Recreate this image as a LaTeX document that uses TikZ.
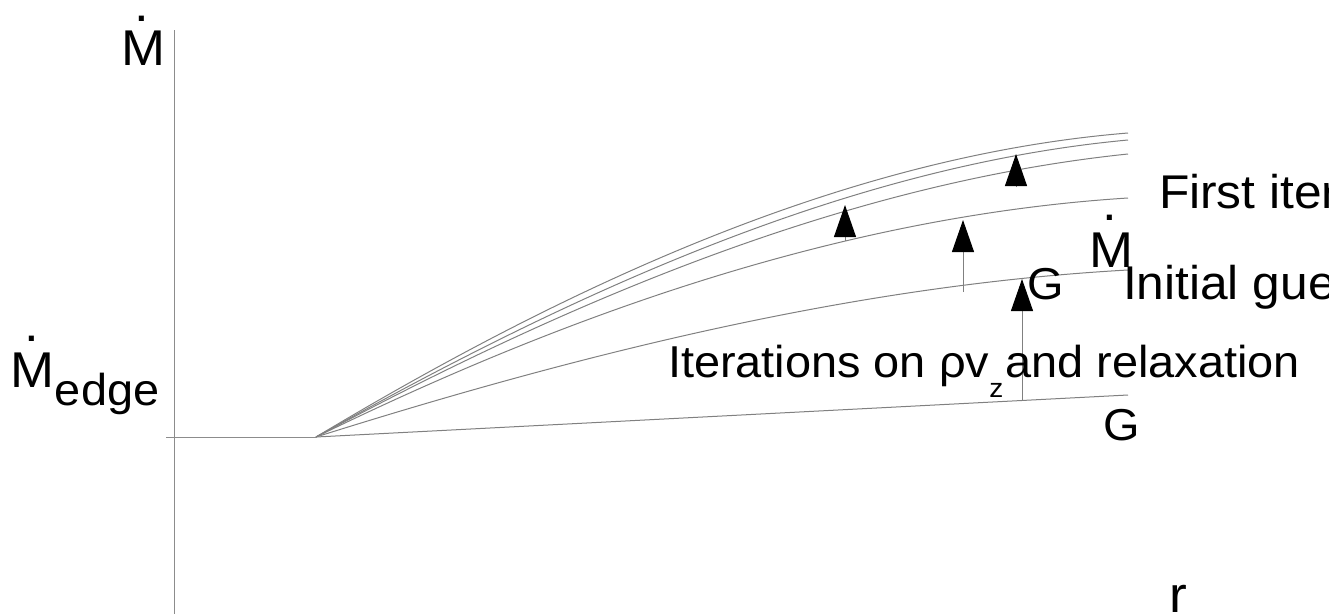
\documentclass[tikz,border=0pt]{standalone}
\usepackage{fontspec}
\setmainfont{Liberation Sans}[FakeStretch=1.05]
\usetikzlibrary{arrows.meta}
\newcommand\dotM[1]{\rlap{\hspace{0.278em}\raisebox{#1em}{.}}M}
\tikzset{
  curve/.style={draw=black!50, line width=0.75pt},
  axis/.style={draw=black!45, line width=0.6pt},
  lbl/.style={inner sep=0pt, outer sep=0pt, anchor=base west, font=\fontsize{33.5}{40}\selectfont},
  sidelbl/.style={lbl, font=\fontsize{35.5}{42}\selectfont},
  biglbl/.style={lbl, font=\fontsize{37.7}{45}\selectfont},
  uparrow/.style={draw=black!50, line width=0.75pt, -{Triangle[length=24pt,width=16.5pt,color=black]}}
}
\begin{document}
\begin{tikzpicture}[x=0.75pt,y=-0.75pt]
\useasboundingbox (0,0) rectangle (1329,614);
\clip (0,0) rectangle (1329,614);
% axes
\coordinate (ytop) at (174,30);
\coordinate (ybot) at (174,614);
\coordinate (xleft) at (166,437);
\coordinate (O) at (316,437);
\draw[axis] (ytop) -- (ybot);
\draw[axis] (xleft) -- (O);
% curve end points
\coordinate (eA) at (1128,133);
\coordinate (eB) at (1128,140);
\coordinate (eC) at (1128,154);
\coordinate (eD) at (1128,198);
\coordinate (eE) at (1128,270);
\coordinate (eF) at (1128,395);
\draw[curve] (O) .. controls (586,275) and (858,155) .. (eA);
\draw[curve] (O) .. controls (586,285) and (858,165) .. (eB);
\draw[curve] (O) .. controls (586,292) and (858,182) .. (eC);
\draw[curve] (O) .. controls (586,305) and (858,215) .. (eD);
\draw[curve] (O) .. controls (586,352) and (858,285) .. (eE);
\draw[curve] (O) -- (eF);
% arrows
\coordinate (a1s) at (845,241); \coordinate (a1t) at (845,205);
\coordinate (a2s) at (963,292); \coordinate (a2t) at (963,220);
\coordinate (a3s) at (1016,187); \coordinate (a3t) at (1016,154);
\coordinate (a4s) at (1022,400); \coordinate (a4t) at (1022,279);
\draw[uparrow] (a1s) -- (a1t);
\draw[uparrow] (a2s) -- (a2t);
\draw[uparrow] (a3s) -- (a3t);
\draw[uparrow] (a4s) -- (a4t);
% labels
\node[biglbl] (mtop) at (121,65) {\dotM{0.86}};
\node[biglbl] (medge) at (11,387) {\dotM{0.9}\raisebox{-0.36em}{\fontsize{33.5}{40}\selectfont edge}};
\node[biglbl] (mright) at (1089,267) {\dotM{0.92}};
\node[sidelbl] (first) at (1159,208) {First iteration};
\node[sidelbl] (init) at (1123,299) {Initial guess};
\node[lbl] (g1) at (1027,299) {G};
\node[lbl] (iter) at (668,377) {Iterations on ρv\raisebox{-0.45em}{\fontsize{20}{24}\selectfont z}\hspace{0.05em}and relaxation};
\node[lbl] (g2) at (1103,440) {G};
\node[lbl, font=\fontsize{38}{46}\selectfont] (r) at (1169,612) {r};
\end{tikzpicture}
\end{document}
